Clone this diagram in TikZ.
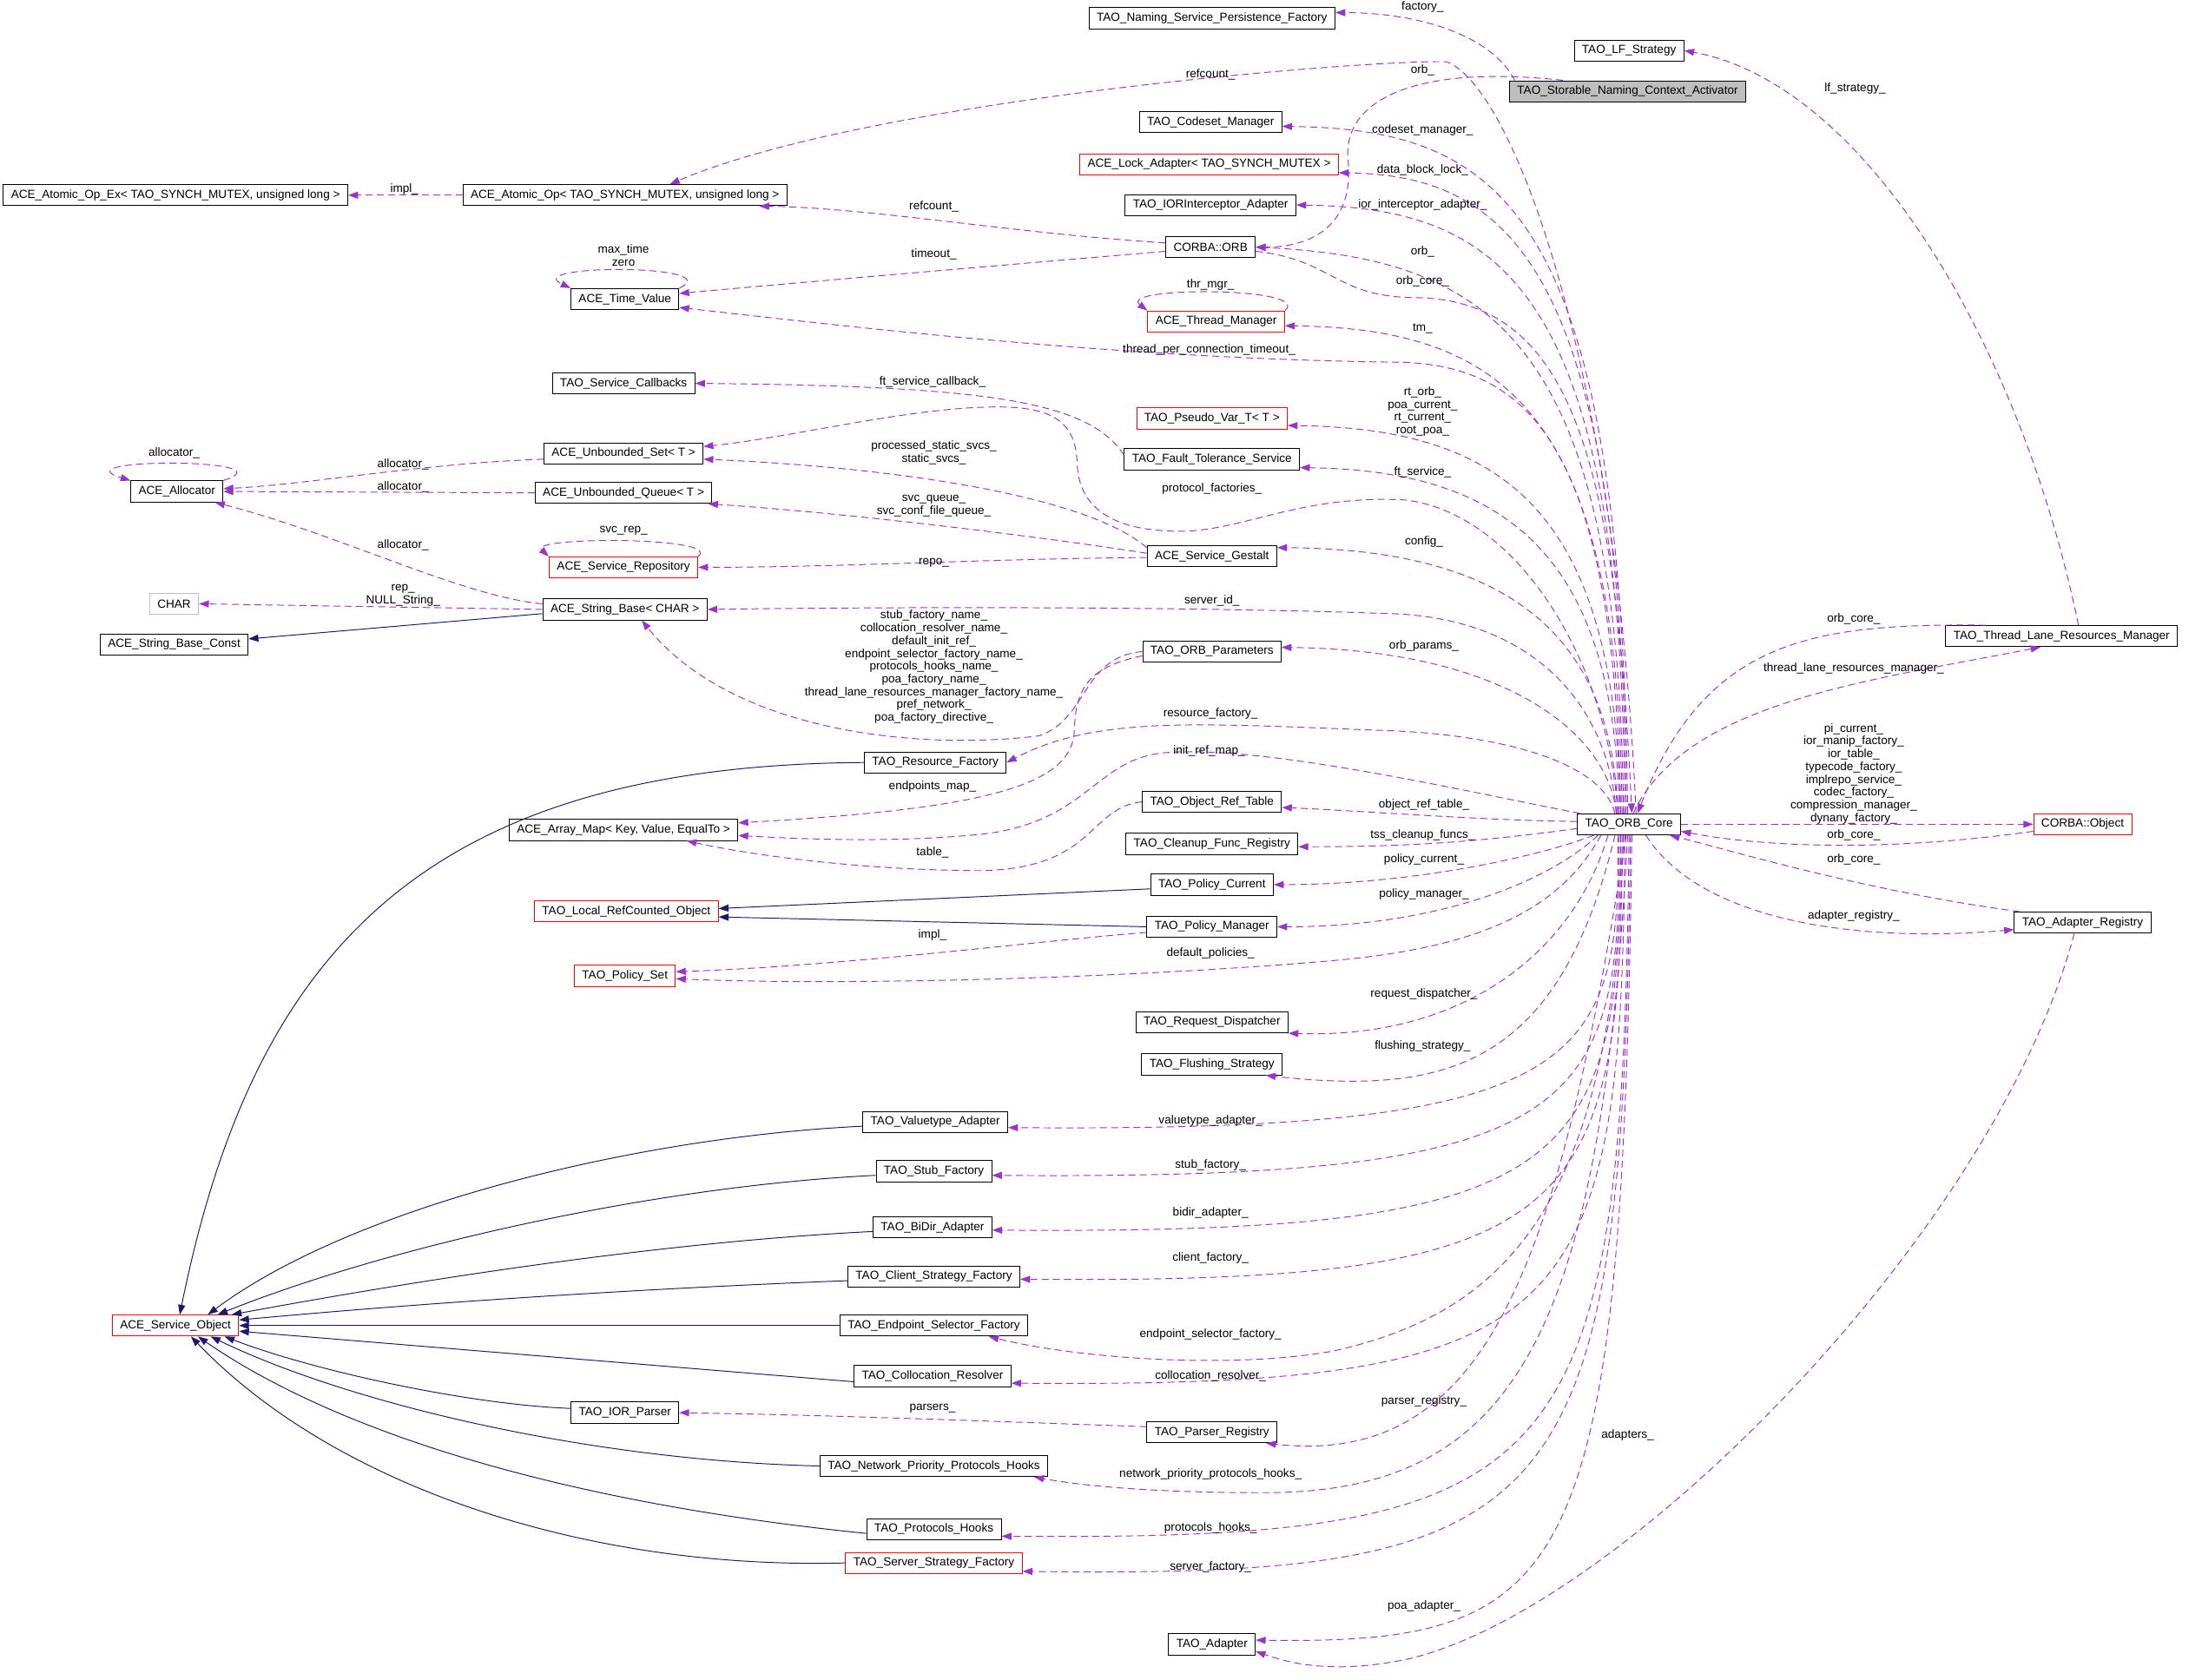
\documentclass[tikz,border=0pt]{standalone}
\usepackage{fontspec}
\setmainfont{Liberation Sans}
\usetikzlibrary{arrows.meta}
\definecolor{memberpurple}{HTML}{9A32CD}
\definecolor{basenavy}{HTML}{191970}
\definecolor{boxgrey}{HTML}{BFBFBF}

\begin{document}
\begin{tikzpicture}[x=1pt, y=-1pt,
    cls/.style={draw=black, line width=0.6pt, fill=white, font=\fontsize{8.4}{9.1}\selectfont,
        inner xsep=5.5pt, inner ysep=0pt, minimum height=15pt},
    redcls/.style={cls, draw=red},
    greycls/.style={cls, draw=boxgrey},
    rootcls/.style={cls, fill=boxgrey},
    member/.style={draw=memberpurple, line width=0.6pt, dash pattern=on 5pt off 3pt,
        -{Triangle[length=7pt,width=5pt]}},
    base/.style={draw=basenavy, line width=0.6pt, -{Triangle[length=7pt,width=5pt]}},
    lbl/.style={font=\fontsize{8.4}{9.1}\selectfont, inner sep=0pt, align=center}]

        \useasboundingbox (0,0) rectangle (1568,1196);

        % Classes
        \node[cls] (nspf) at (863,13) {TAO\_Naming\_Service\_Persistence\_Factory};
        \node[cls] (lfs) at (1160,36) {TAO\_LF\_Strategy};
        \node[rootcls] (act) at (1159,65) {TAO\_Storable\_Naming\_Context\_Activator};
        \node[cls] (codeset) at (862,87) {TAO\_Codeset\_Manager};
        \node[redcls] (lock) at (861,117) {ACE\_Lock\_Adapter< TAO\_SYNCH\_MUTEX >};
        \node[cls] (iori) at (862,146) {TAO\_IORInterceptor\_Adapter};
        \node[cls] (aopx) at (125,139) {ACE\_Atomic\_Op\_Ex< TAO\_SYNCH\_MUTEX, unsigned long >};
        \node[cls] (aop) at (445,139) {ACE\_Atomic\_Op< TAO\_SYNCH\_MUTEX, unsigned long >};
        \node[cls] (orb) at (862,176) {CORBA::ORB};
        \node[cls] (tv) at (445,213) {ACE\_Time\_Value};
        \node[redcls] (thrmgr) at (866,229) {ACE\_Thread\_Manager};
        \node[cls] (svccb) at (444,273) {TAO\_Service\_Callbacks};
        \node[redcls] (pseudo) at (863,298) {TAO\_Pseudo\_Var\_T< T >};
        \node[cls] (uset) at (444,323) {ACE\_Unbounded\_Set< T >};
        \node[cls] (fts) at (863,327) {TAO\_Fault\_Tolerance\_Service};
        \node[cls] (alloc) at (126,350) {ACE\_Allocator};
        \node[cls] (uqueue) at (444,351) {ACE\_Unbounded\_Queue< T >};
        \node[redcls] (svcrep) at (444,404) {ACE\_Service\_Repository};
        \node[cls] (gestalt) at (863,396) {ACE\_Service\_Gestalt};
        \node[greycls] (chr) at (124,430) {CHAR};
        \node[cls] (strbase) at (445,434) {ACE\_String\_Base< CHAR >};
        \node[cls] (strconst) at (124,459) {ACE\_String\_Base\_Const};
        \node[cls] (params) at (863,464) {TAO\_ORB\_Parameters};
        \node[cls] (tlrm) at (1468,453) {TAO\_Thread\_Lane\_Resources\_Manager};
        \node[cls] (resfac) at (666,543) {TAO\_Resource\_Factory};
        \node[cls] (amap) at (444,591) {ACE\_Array\_Map< Key, Value, EqualTo >};
        \node[cls] (objref) at (863,571) {TAO\_Object\_Ref\_Table};
        \node[cls] (core) at (1160,587) {TAO\_ORB\_Core};
        \node[redcls] (cobj) at (1483,587) {CORBA::Object};
        \node[cls] (cleanup) at (863,601) {TAO\_Cleanup\_Func\_Registry};
        \node[redcls] (lrco) at (446,649) {TAO\_Local\_RefCounted\_Object};
        \node[cls] (polcur) at (863,630) {TAO\_Policy\_Current};
        \node[cls] (polman) at (863,660) {TAO\_Policy\_Manager};
        \node[cls] (adreg) at (1483,657) {TAO\_Adapter\_Registry};
        \node[redcls] (polset) at (445,695) {TAO\_Policy\_Set};
        \node[cls] (reqdisp) at (863,728) {TAO\_Request\_Dispatcher};
        \node[cls] (flush) at (863,758) {TAO\_Flushing\_Strategy};
        \node[cls] (vtadapt) at (666,799) {TAO\_Valuetype\_Adapter};
        \node[cls] (stubfac) at (665,834) {TAO\_Stub\_Factory};
        \node[cls] (bidir) at (664,874) {TAO\_BiDir\_Adapter};
        \node[cls] (clifac) at (665,909) {TAO\_Client\_Strategy\_Factory};
        \node[redcls] (svcobj) at (125,944) {ACE\_Service\_Object};
        \node[cls] (epsel) at (665,944) {TAO\_Endpoint\_Selector\_Factory};
        \node[cls] (coll) at (664,980) {TAO\_Collocation\_Resolver};
        \node[cls] (iorp) at (445,1006) {TAO\_IOR\_Parser};
        \node[cls] (parsreg) at (863,1020) {TAO\_Parser\_Registry};
        \node[cls] (nphooks) at (665,1044) {TAO\_Network\_Priority\_Protocols\_Hooks};
        \node[cls] (phooks) at (665,1089) {TAO\_Protocols\_Hooks};
        \node[redcls] (srvfac) at (665,1113) {TAO\_Server\_Strategy\_Factory};
        \node[cls] (adapter) at (863,1171) {TAO\_Adapter};

        % Inheritance
        \draw[base] ([yshift=-3pt]strbase.west) -- ([yshift=4pt]strconst.east);
        \draw[base] ([yshift=-3pt]polcur.west) -- ([yshift=2pt]lrco.east);
        \draw[base] (polman.west) -- ([yshift=-4pt]lrco.east);
        \draw[base] (resfac.west) .. controls (300,545) and (180,680) .. ([xshift=3pt]svcobj.north);
        \draw[base] ([yshift=-3pt]vtadapt.west) .. controls (450,810) and (250,860) .. ([xshift=23pt]svcobj.north);
        \draw[base] ([yshift=-3pt]stubfac.west) .. controls (460,845) and (270,890) .. ([xshift=30pt]svcobj.north);
        \draw[base] ([yshift=-3pt]bidir.west) .. controls (460,885) and (280,915) .. ([xshift=40pt]svcobj.north);
        \draw[base] ([yshift=-3pt]clifac.west) .. controls (450,918) and (300,928) .. ([yshift=4pt]svcobj.east);
        \draw[base] (epsel.west) -- (svcobj.east);
        \draw[base] ([yshift=-4pt]coll.west) -- ([yshift=-4pt]svcobj.east);
        \draw[base] ([yshift=3pt]iorp.west) .. controls (330,1000) and (220,975) .. ([xshift=35pt]svcobj.south);
        \draw[base] (nphooks.west) .. controls (420,1040) and (250,1000) .. ([xshift=25pt]svcobj.south);
        \draw[base] ([yshift=-3pt]phooks.west) .. controls (400,1070) and (240,1020) .. ([xshift=16pt]svcobj.south);
        \draw[base] (srvfac.west) .. controls (420,1118) and (240,1060) .. ([xshift=11pt]svcobj.south);

        % Members, left side
        \draw[member] (aop.west) -- (aopx.east);
        \draw[member] ([yshift=3pt]orb.west) .. controls (720,166) and (620,148) .. ([xshift=-20pt]aop.south east);
        \draw[member] ([yshift=-3pt]orb.west) .. controls (700,190) and (560,202) .. ([yshift=4pt]tv.east);
        \draw[member] (tv.north east) .. controls (520,188) and (370,188) .. (tv.north west);
        \draw[member] (thrmgr.north east) .. controls (935,204) and (795,204) .. (thrmgr.north west);
        \draw[member] ([yshift=3pt]fts.west) .. controls (775,285) and (700,275) .. (svccb.east);
        \draw[member] ([yshift=6pt]gestalt.west) .. controls (770,350) and (620,332) .. ([yshift=-4pt]uset.east);
        \draw[member] ([yshift=2pt]gestalt.west) .. controls (740,382) and (600,365) .. ([xshift=-3pt]uqueue.south east);
        \draw[member] ([yshift=-1pt]gestalt.west) .. controls (700,398) and (600,404) .. (svcrep.east);
        \draw[member] (svcrep.north east) .. controls (515,382) and (375,382) .. (svcrep.north west);
        \draw[member] ([yshift=-4pt]uset.west) .. controls (300,330) and (220,345) .. ([yshift=2pt]alloc.east);
        \draw[member] (uqueue.west) -- (alloc.east);
        \draw[member] ([yshift=4pt]strbase.west) .. controls (330,425) and (240,380) .. ([xshift=-6pt]alloc.south east);
        \draw[member] (alloc.north east) .. controls (210,326) and (40,326) .. (alloc.north west);
        \draw[member] (strbase.west) -- (chr.east);
        \draw[member] (params.west) .. controls (770,468) and (775,512) .. (740,524) .. controls (650,535) and (520,520) .. ([xshift=12pt]strbase.south);
        \draw[member] ([yshift=-3pt]params.west) .. controls (775,475) and (766,490) .. (765,520) .. controls (764,560) and (700,576) .. ([yshift=5pt]amap.east);
        \draw[member] (objref.west) .. controls (775,575) and (780,618) .. (700,620) .. controls (620,620) and (540,610) .. ([xshift=45pt]amap.south);
        \draw[member] ([yshift=-4pt]polman.west) .. controls (740,670) and (600,688) .. ([yshift=3pt]polset.east);
        \draw[member] ([yshift=4pt]parsreg.west) .. controls (700,1012) and (600,1008) .. (iorp.east);

        % Members of the activator
        \draw[member] ([xshift=4pt]act.north west) .. controls (1062,25) and (1010,9) .. ([yshift=4pt]nspf.east);
        \draw[member] ([xshift=-46pt]act.north) .. controls (1000,45) and (955,75) .. (960,115) .. controls (964,160) and (935,176) .. (orb.east);

        % Members of TAO_ORB_Core, upper fan
        \draw[member] ([xshift=5pt]core.north) .. controls (1150,250) and (1075,60) .. (1030,44) .. controls (980,42) and (620,70) .. ([xshift=32pt]aop.north);
        \draw[member] ([xshift=-1pt]core.north) .. controls (1155,150) and (1070,92) .. ([yshift=-3pt]codeset.east);
        \draw[member] ([xshift=-2pt]core.north) .. controls (1155,183) and (1070,125) .. ([yshift=-6pt]lock.east);
        \draw[member] ([xshift=-3pt]core.north) .. controls (1155,206) and (1070,148) .. (iori.east);
        \draw[member] ([xshift=-4pt]core.north) .. controls (1153,240) and (1060,184) .. (orb.east);
        \draw[member] ([yshift=-3pt]orb.east) .. controls (950,185) and (950,212) .. (1010,212) .. controls (1120,215) and (1150,330) .. ([xshift=2pt]core.north);
        \draw[member] ([xshift=-5pt]core.north) .. controls (1153,292) and (1070,234) .. ([yshift=-3pt]thrmgr.east);
        \draw[member] ([xshift=-6pt]core.north) .. controls (1150,320) and (1090,262) .. (1000,258) .. controls (800,256) and (600,232) .. ([yshift=-6pt]tv.east);
        \draw[member] ([xshift=-6pt]core.north) .. controls (1150,363) and (1070,305) .. ([yshift=-5pt]pseudo.east);
        \draw[member] ([xshift=-7pt]core.north) .. controls (1150,393) and (1070,335) .. ([yshift=-6pt]fts.east);
        \draw[member] ([xshift=-8pt]core.north) .. controls (1145,470) and (1080,365) .. (1000,356) .. controls (920,352) and (880,382) .. (830,378) .. controls (790,376) and (768,360) .. (767,330) .. controls (766,300) and (750,288) .. (700,290) .. controls (640,292) and (560,312) .. ([yshift=5pt]uset.east);
        \draw[member] ([xshift=-8pt]core.north) .. controls (1148,449) and (1070,391) .. ([yshift=6pt]gestalt.east);
        \draw[member] ([xshift=-9pt]core.north) .. controls (1145,500) and (1090,440) .. (990,437) .. controls (850,432) and (650,432) .. (strbase.east);
        \draw[member] ([xshift=-9pt]core.north) .. controls (1145,521) and (1070,463) .. ([yshift=3pt]params.east);
        \draw[member] ([xshift=-10pt]core.north) .. controls (1140,540) and (1060,522) .. (980,520) .. controls (850,515) and (780,510) .. (resfac.east);
        \draw[member] ([xshift=2pt]core.north west) .. controls (1050,565) and (900,530) .. (830,536) .. controls (780,540) and (775,585) .. (700,594) .. controls (640,600) and (580,598) .. ([yshift=-4pt]amap.east);

        % Right hand side
        \draw[member] ([xshift=-54pt]tlrm.north) .. controls (1290,444) and (1215,455) .. ([xshift=6pt]core.north);
        \draw[member] ([xshift=3pt]core.north) .. controls (1200,500) and (1330,485) .. ([xshift=-15pt]tlrm.south);
        \draw[member] ([xshift=12pt]tlrm.north) .. controls (1440,250) and (1330,60) .. (lfs.east);
        \draw[member] (core.east) -- (cobj.west);
        \draw[member] ([yshift=-5pt]cobj.west) .. controls (1350,606) and (1260,604) .. ([yshift=-5pt]core.east);
        \draw[member] ([xshift=4pt]adreg.north west) .. controls (1330,635) and (1230,605) .. ([xshift=-8pt]core.south east);
        \draw[member] ([xshift=12pt]core.south) .. controls (1210,655) and (1320,672) .. ([yshift=-5pt]adreg.west);
        \draw[member] ([xshift=-6pt]adreg.south) .. controls (1420,880) and (1150,1150) .. (1000,1182) .. controls (950,1192) and (920,1185) .. ([yshift=-5pt]adapter.east);

        % Members of TAO_ORB_Core, lower fan
        \draw[member] ([yshift=2pt]core.west) .. controls (1050,584) and (980,578) .. ([yshift=-4pt]objref.east);
        \draw[member] ([yshift=-3pt]core.west) .. controls (1050,600) and (1000,603) .. ([yshift=-2pt]cleanup.east);
        \draw[member] ([xshift=-25pt]core.south) .. controls (1090,612) and (1000,630) .. (polcur.east);
        \draw[member] ([xshift=-22pt]core.south) .. controls (1100,630) and (1020,660) .. (polman.east);
        \draw[member] ([xshift=-20pt]core.south) .. controls (1110,650) and (1050,675) .. (950,684) .. controls (800,697) and (600,702) .. ([yshift=-2pt]polset.east);
        \draw[member] ([xshift=-15pt]core.south) .. controls (1120,680) and (1040,740) .. (reqdisp.south east);
        \draw[member] ([xshift=-10pt]core.south) .. controls (1110,760) and (1030,780) .. ([xshift=-12pt]flush.south east);
        \draw[member] ([xshift=-8pt]core.south) .. controls (1155,763) and (1120,806) .. ([yshift=-4pt]vtadapt.east);
        \draw[member] ([xshift=-7pt]core.south) .. controls (1155,797) and (1120,840) .. ([yshift=-3pt]stubfac.east);
        \draw[member] ([xshift=-6pt]core.south) .. controls (1155,836) and (1120,879) .. ([yshift=-2pt]bidir.east);
        \draw[member] ([xshift=-5pt]core.south) .. controls (1155,871) and (1120,914) .. ([yshift=-2pt]clifac.east);
        \draw[member] ([xshift=-4pt]core.south) .. controls (1150,860) and (1070,935) .. (950,962) .. controls (880,975) and (770,968) .. ([xshift=-28pt]epsel.south east);
        \draw[member] ([xshift=-3pt]core.south) .. controls (1155,945) and (1120,988) .. ([yshift=-5pt]coll.east);
        \draw[member] ([xshift=-2pt]core.south) .. controls (1110,900) and (1060,1045) .. ([xshift=-8pt]parsreg.south east);
        \draw[member] ([xshift=-1pt]core.south) .. controls (1140,950) and (1080,1063) .. (900,1063) .. controls (820,1063) and (770,1058) .. ([xshift=-10pt]nphooks.south east);
        \draw[member] (core.south) .. controls (1155,1054) and (1120,1097) .. ([yshift=-5pt]phooks.east);
        \draw[member] ([xshift=1pt]core.south) .. controls (1155,1081) and (1120,1124) .. ([yshift=-6pt]srvfac.east);
        \draw[member] ([xshift=2pt]core.south) .. controls (1155,1128) and (1120,1171) .. ([yshift=3pt]adapter.east);

        % Labels
        \node[lbl] (lFactory) at (1013,5) {factory\_};
        \node[lbl] (lActOrb) at (1013,50) {orb\_};
        \node[lbl] (lCoreRef) at (862,53) {refcount\_};
        \node[lbl] (lLf) at (1321,63) {lf\_strategy\_};
        \node[lbl] (lCodeset) at (1013,93) {codeset\_manager\_};
        \node[lbl] (lLock) at (1013,121) {data\_block\_lock\_};
        \node[lbl] (lImplOp) at (288,135) {impl\_};
        \node[lbl] (lIori) at (1013,146) {ior\_interceptor\_adapter\_};
        \node[lbl] (lOrbRef) at (665,147) {refcount\_};
        \node[lbl] (lCoreOrb) at (1013,179) {orb\_};
        \node[lbl] (lTime) at (444,182) {max\_time\\zero};
        \node[lbl] (lTimeout) at (665,181) {timeout\_};
        \node[lbl] (lOrbCore) at (1013,200) {orb\_core\_};
        \node[lbl] (lThrMgr) at (862,203) {thr\_mgr\_};
        \node[lbl] (lTm) at (1013,234) {tm\_};
        \node[lbl] (lTpc) at (861,249) {thread\_per\_connection\_timeout\_};
        \node[lbl] (lFtCb) at (664,272) {ft\_service\_callback\_};
        \node[lbl] (lPseudo) at (1013,293) {rt\_orb\_\\poa\_current\_\\rt\_current\_\\root\_poa\_};
        \node[lbl] (lStatic) at (665,322.5) {processed\_static\_svcs\_\\static\_svcs\_};
        \node[lbl] (lAllocSelf) at (124,323) {allocator\_};
        \node[lbl] (lAllocSet) at (287,331) {allocator\_};
        \node[lbl] (lFt) at (1013,336) {ft\_service\_};
        \node[lbl] (lAllocQueue) at (287,347) {allocator\_};
        \node[lbl] (lProto) at (863,348) {protocol\_factories\_};
        \node[lbl] (lQueue) at (665,360.5) {svc\_queue\_\\svc\_conf\_file\_queue\_};
        \node[lbl] (lSvcRep) at (444,378) {svc\_rep\_};
        \node[lbl] (lConfig) at (1014,386) {config\_};
        \node[lbl] (lAllocStr) at (287,388) {allocator\_};
        \node[lbl] (lRepo) at (665,401) {repo\_};
        \node[lbl] (lRep) at (287,424) {rep\_\\NULL\_String\_};
        \node[lbl] (lServerId) at (863,428) {server\_id\_};
        \node[lbl] (lTlrmCore) at (1320,441) {orb\_core\_};
        \node[lbl] (lParams) at (1014,460) {orb\_params\_};
        \node[lbl] (lNames) at (665,475) {stub\_factory\_name\_\\collocation\_resolver\_name\_\\default\_init\_ref\_\\endpoint\_selector\_factory\_name\_\\protocols\_hooks\_name\_\\poa\_factory\_name\_\\thread\_lane\_resources\_manager\_factory\_name\_\\pref\_network\_\\poa\_factory\_directive\_};
        \node[lbl] (lTlrm) at (1320,476) {thread\_lane\_resources\_manager\_};
        \node[lbl] (lResFac) at (862,508) {resource\_factory\_};
        \node[lbl] (lObject) at (1320,551) {pi\_current\_\\ior\_manip\_factory\_\\ior\_table\_\\typecode\_factory\_\\implrepo\_service\_\\codec\_factory\_\\compression\_manager\_\\dynany\_factory\_};
        \node[lbl] (lInitRef) at (861,535) {init\_ref\_map\_};
        \node[lbl] (lEndpoints) at (664,560) {endpoints\_map\_};
        \node[lbl] (lObjRef) at (1014,573) {object\_ref\_table\_};
        \node[lbl] (lTss) at (1013,595) {tss\_cleanup\_funcs\_};
        \node[lbl] (lObjCore) at (1320,595) {orb\_core\_};
        \node[lbl] (lTable) at (664,607) {table\_};
        \node[lbl] (lPolCur) at (1014,612) {policy\_current\_};
        \node[lbl] (lRegCore) at (1320,612) {orb\_core\_};
        \node[lbl] (lPolMan) at (1014,637) {policy\_manager\_};
        \node[lbl] (lAdReg) at (1320,652) {adapter\_registry\_};
        \node[lbl] (lImplPol) at (664,666) {impl\_};
        \node[lbl] (lDefPol) at (862,679) {default\_policies\_};
        \node[lbl] (lReqDisp) at (1014,708) {request\_dispatcher\_};
        \node[lbl] (lFlush) at (1013,745) {flushing\_strategy\_};
        \node[lbl] (lVt) at (862,798) {valuetype\_adapter\_};
        \node[lbl] (lStub) at (862,830) {stub\_factory\_};
        \node[lbl] (lBidir) at (862,864) {bidir\_adapter\_};
        \node[lbl] (lClient) at (862,896) {client\_factory\_};
        \node[lbl] (lEpsel) at (862,950) {endpoint\_selector\_factory\_};
        \node[lbl] (lColl) at (862,980) {collocation\_resolver\_};
        \node[lbl] (lParsReg) at (1014,998) {parser\_registry\_};
        \node[lbl] (lParsers) at (664,1003) {parsers\_};
        \node[lbl] (lAdapters) at (1159,1022) {adapters\_};
        \node[lbl] (lNpHooks) at (862,1050) {network\_priority\_protocols\_hooks\_};
        \node[lbl] (lPHooks) at (862,1088) {protocols\_hooks\_};
        \node[lbl] (lSrv) at (862,1116) {server\_factory\_};
        \node[lbl] (lPoa) at (1014,1144) {poa\_adapter\_};

    \end{tikzpicture}
\end{document}
